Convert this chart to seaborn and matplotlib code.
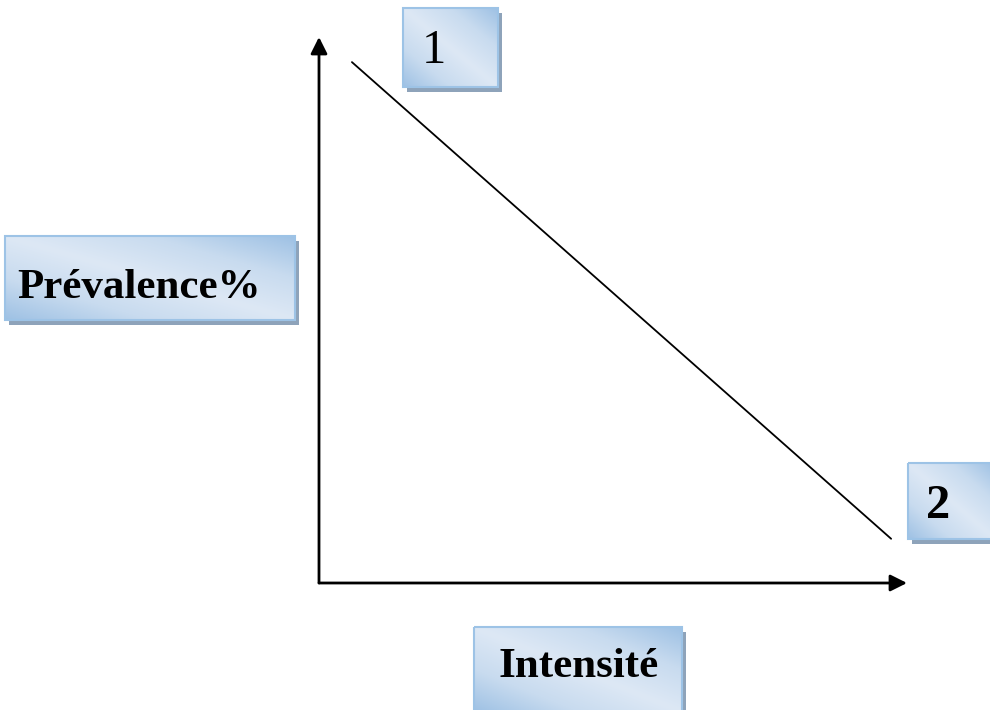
import numpy as np
import pandas as pd
import seaborn as sns
import matplotlib.pyplot as plt
from matplotlib.colors import LinearSegmentedColormap
from matplotlib.patches import Rectangle

# schematic relation: prevalence falls as intensity rises
intensite = [0.056, 0.973]
prevalence = [0.954, 0.081]
points = ['1', '2']

x_label = 'Intensité'
y_label = 'Prévalence%'

df = pd.DataFrame({'intensite': intensite, 'prevalence': prevalence})

sns.set_style('white')
plt.rcParams['font.family'] = ['Liberation Serif', 'DejaVu Serif']

fig = plt.figure(figsize=(9.9, 7.1), dpi=100)

# main axes (pixels: x 319..907, y 37..583)
ax = fig.add_axes([319 / 990, 1 - 583 / 710, 588 / 990, 546 / 710])
sns.lineplot(data=df, x='intensite', y='prevalence', ax=ax, color='black', linewidth=1.3)
ax.set_xlim(0, 1)
ax.set_ylim(0, 1)
ax.set_xticks([])
ax.set_yticks([])
ax.set_xlabel('')
ax.set_ylabel('')
for s in ax.spines.values():
    s.set_visible(False)
ax.patch.set_alpha(0)

arrow = dict(arrowstyle='-|>,head_length=1.0,head_width=0.5', color='black', lw=2.0,
             shrinkA=0, shrinkB=0)
ax.annotate('', xy=(0, 1), xytext=(0, 0), xycoords='axes fraction', arrowprops=arrow,
            annotation_clip=False)
ax.annotate('', xy=(1, 0), xytext=(0, 0), xycoords='axes fraction', arrowprops=arrow,
            annotation_clip=False)

# overlay for the label boxes, in pixel units
ov = fig.add_axes([0, 0, 1, 1], zorder=5)
ov.set_xlim(0, 990)
ov.set_ylim(710, 0)
ov.axis('off')
ov.patch.set_alpha(0)

cmap = LinearSegmentedColormap.from_list('box', ['#dde8f5', '#c8dbef', '#9ec1e4'])


def label_box(x0, y0, x1, y1, text, tx, ty, weight, size):
    ov.add_patch(Rectangle((x0 + 4, y0 + 5), x1 - x0, y1 - y0, color='#8ea3ba', lw=0, zorder=1))
    u, v = np.meshgrid(np.linspace(0, 1, 200), np.linspace(0, 1, 100))
    g = np.abs(u - v)
    ov.imshow(g, cmap=cmap, extent=(x0, x1, y1, y0), aspect='auto', zorder=2,
              interpolation='bilinear', vmin=0, vmax=1)
    ov.add_patch(Rectangle((x0, y0), x1 - x0, y1 - y0, fill=False, edgecolor='#9dc3e6',
                           lw=1.5, zorder=3))
    ov.text(tx, ty, text, fontsize=size, fontweight=weight, ha='left', va='baseline',
            color='black', zorder=4)


label_box(403, 8, 498, 87, points[0], 422, 63, 'normal', 35)
label_box(908, 463, 995, 539, points[1], 926, 518, 'bold', 35)
label_box(5, 236, 295, 320, y_label, 17, 298, 'bold', 31)
label_box(474, 627, 682, 712, x_label, 498, 677, 'bold', 31)

ov.set_xlim(0, 990)
ov.set_ylim(710, 0)

fig.savefig('out.png', dpi=100)
